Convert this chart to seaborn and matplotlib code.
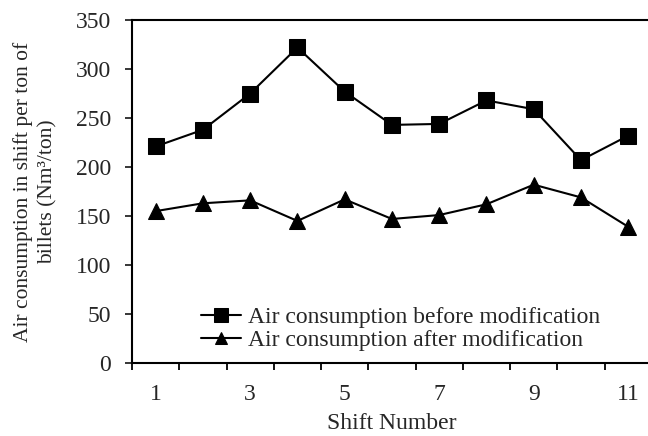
import numpy as np
import pandas as pd
import matplotlib
matplotlib.use("Agg")
import matplotlib.pyplot as plt
import seaborn as sns

shifts = [1, 2, 3, 4, 5, 6, 7, 8, 9, 10, 11]
before = [221, 238, 275, 322, 277, 243, 244, 268, 259, 207, 232]
after = [155, 163, 166, 145, 167, 147, 151, 162, 182, 169, 139]
label_before = "Air consumption before modification"
label_after = "Air consumption after modification"

sns.set_style("ticks")
plt.rcParams["font.family"] = ["Liberation Serif", "DejaVu Serif"]
fs = 17

df = pd.DataFrame({"shift": shifts, "before": before, "after": after})

fig = plt.figure(figsize=(6.48, 4.36), dpi=100)
ax = fig.add_axes([0.2037, 0.1674, 0.8023, 0.7866])

sns.lineplot(data=df, x="shift", y="before", ax=ax, color="black", marker="s",
             markersize=11.5, linewidth=1.5, markeredgecolor="black", label=label_before)
sns.lineplot(data=df, x="shift", y="after", ax=ax, color="black", marker="^",
             markersize=11, linewidth=1.5, markeredgecolor="black", label=label_after)

ax.set_xlim(0.5, 11.5)
ax.set_ylim(0, 350)
ax.set_yticks(np.arange(0, 351, 50))
# tick marks sit between categories, labels on odd shifts
ax.set_xticks(np.arange(0.5, 11.6, 1.0))
ax.set_xticklabels([])
ax.set_xticks([1, 3, 5, 7, 9, 11], minor=True)
ax.set_xticklabels(["1", "3", "5", "7", "9", "11"], minor=True)
ax.tick_params(axis="x", which="major", direction="out", length=5, width=1.3, color="black")
ax.tick_params(axis="x", which="minor", length=0, pad=15, labelsize=fs)
ax.tick_params(axis="y", direction="out", length=5, width=1.3, pad=10, labelsize=fs)

for s in ["left", "bottom", "top"]:
    ax.spines[s].set_visible(True)
    ax.spines[s].set_linewidth(1.5)
    ax.spines[s].set_color("black")
ax.spines["right"].set_visible(False)

ax.set_xlabel("Shift Number", fontsize=fs, labelpad=6)
ax.set_ylabel("Air consumption in shift per ton of\nbillets (Nm³/ton)", fontsize=15.5,
              labelpad=13, linespacing=1.4)

ax.legend(loc="lower left", bbox_to_anchor=(0.11, 0.0), frameon=False, fontsize=fs,
          handlelength=1.7, handletextpad=0.3, labelspacing=0.05, borderaxespad=0.1,
          markerscale=0.85)

fig.savefig("out.png", dpi=100)
